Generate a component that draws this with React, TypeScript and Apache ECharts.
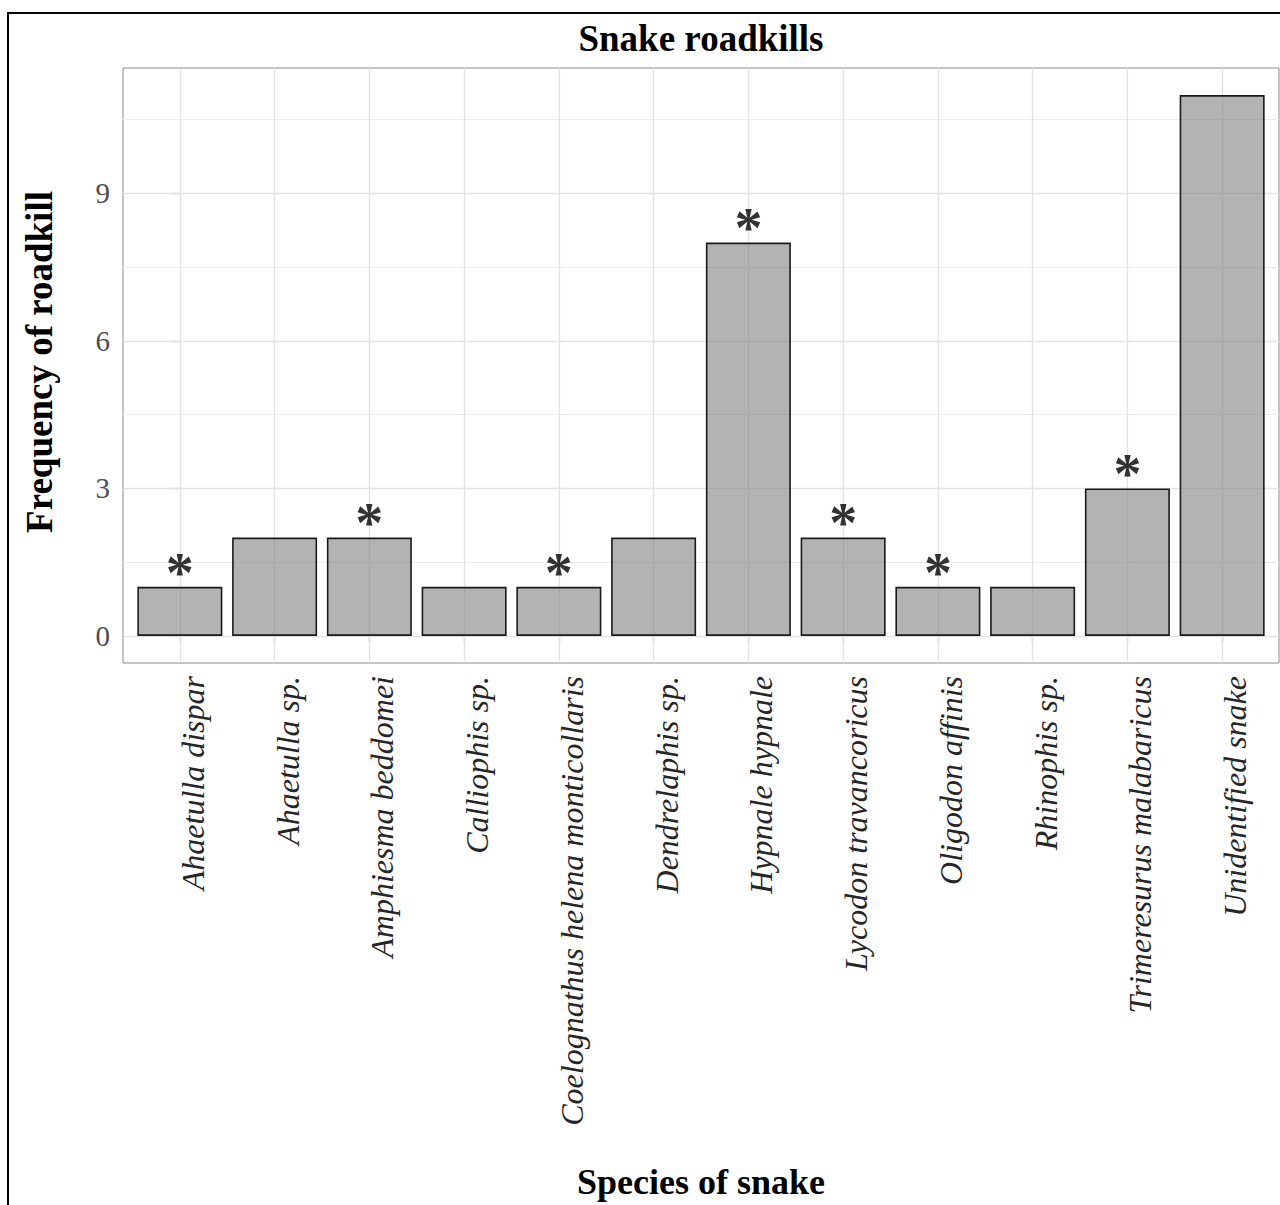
import React, { useEffect, useRef } from "react";
import * as echarts from "echarts";

const categories = [
  "Ahaetulla dispar",
  "Ahaetulla sp.",
  "Amphiesma beddomei",
  "Calliophis sp.",
  "Coelognathus helena monticollaris",
  "Dendrelaphis sp.",
  "Hypnale hypnale",
  "Lycodon travancoricus",
  "Oligodon affinis",
  "Rhinophis sp.",
  "Trimeresurus malabaricus",
  "Unidentified snake",
];
const counts = [1, 2, 2, 1, 1, 2, 8, 2, 1, 1, 3, 11];
const significant = [true, false, true, false, true, false, true, true, true, false, true, false];
const yTicks = [0, 3, 6, 9];
const yMinorGrid = [1.5, 4.5, 7.5, 10.5];

const SERIF = "'Liberation Serif', 'Times New Roman', serif";
const STAR_GAP = 0.45;

export default function App() {
  const ref = useRef<HTMLDivElement>(null);
  useEffect(() => {
    if (!ref.current) return;
    const chart = echarts.init(ref.current, null, { renderer: "svg" });
    const xIdx = categories.map((_, i) => i);
    const gridLine = { color: "#e3e3e3", width: 1.4, type: "solid" as const };
    const minorLine = { color: "#ececec", width: 1, type: "solid" as const };
    const option: any = {
      animation: false,
      backgroundColor: "#ffffff",
      grid: {
        left: 123,
        top: 68,
        right: 1,
        bottom: 542,
        show: true,
        borderColor: "#8a8a8a",
        borderWidth: 1,
        backgroundColor: "#ffffff",
        containLabel: false,
      },
      xAxis: {
        type: "value",
        min: -0.6,
        max: categories.length - 0.4,
        splitLine: { show: false },
        axisLine: { show: true, lineStyle: { color: "#8a8a8a", width: 1 } },
        axisTick: { show: true, customValues: xIdx, length: 6, lineStyle: { color: "#555", width: 1.2 } },
        axisLabel: {
          show: true,
          customValues: xIdx,
          rotate: 90,
          margin: 13,
          verticalAlign: "top",
          lineHeight: 26,
          formatter: (v: number) => categories[Math.round(v)] ?? "",
          fontFamily: SERIF,
          fontStyle: "italic",
          fontSize: 32,
          color: "#262626",
        },
      },
      yAxis: {
        type: "value",
        min: -0.55,
        max: 11.55,
        splitLine: { show: false },
        axisLine: { show: true, lineStyle: { color: "#8a8a8a", width: 1 } },
        axisTick: { show: true, customValues: yTicks, length: 6, lineStyle: { color: "#555", width: 1.2 } },
        axisLabel: {
          show: true,
          customValues: yTicks,
          margin: 13,
          fontFamily: SERIF,
          fontSize: 29,
          color: "#4d4d4d",
        },
      },
      series: [
        {
          type: "line",
          z: 1,
          silent: true,
          symbol: "none",
          lineStyle: { opacity: 0 },
          data: counts.map((v, i) => [i, v]),
          markLine: {
            silent: true,
            z: 1,
            symbol: "none",
            animation: false,
            label: { show: false },
            data: [
              ...yTicks.map((v) => ({ yAxis: v, lineStyle: gridLine })),
              ...yMinorGrid.map((v) => ({ yAxis: v, lineStyle: minorLine })),
              ...xIdx.map((v) => ({ xAxis: v, lineStyle: gridLine })),
            ],
          },
        },
        {
          type: "bar",
          z: 2,
          barWidth: 85,
          data: counts.map((v, i) => [i, v]),
          itemStyle: {
            color: "rgba(128,128,128,0.6)",
            borderColor: "#1a1a1a",
            borderWidth: 1.6,
          },
        },
        {
          type: "scatter",
          z: 3,
          symbolSize: 0,
          data: counts
            .map((v, i) => (significant[i] ? [i, v + STAR_GAP] : null))
            .filter((d) => d !== null),
          label: {
            show: true,
            position: "inside",
            formatter: "*",
            fontFamily: SERIF,
            fontWeight: "bold",
            fontSize: 56,
            color: "#000",
            offset: [0, 8],
          },
        },
      ],
      graphic: [
        {
          type: "rect",
          shape: { x: 8, y: 13, width: 1400, height: 1400 },
          style: { fill: "none", stroke: "#000", lineWidth: 2 },
          silent: true,
          z: 100,
        },
        {
          type: "text",
          x: 701,
          y: 38,
          style: {
            text: "Snake roadkills",
            font: `bold 37px ${SERIF}`,
            fill: "#000",
            align: "center",
            verticalAlign: "middle",
          },
        },
        {
          type: "text",
          x: 701,
          y: 1182,
          style: {
            text: "Species of snake",
            font: `bold 36px ${SERIF}`,
            fill: "#000",
            align: "center",
            verticalAlign: "middle",
          },
        },
        {
          type: "text",
          x: 39,
          y: 362,
          rotation: Math.PI / 2,
          style: {
            text: "Frequency of roadkill",
            font: `bold 37px ${SERIF}`,
            fill: "#000",
            align: "center",
            verticalAlign: "middle",
          },
        },
      ],
    };
    chart.setOption(option);
    return () => chart.dispose();
  }, []);
  return (
    <div
      ref={ref}
      style={{ position: "absolute", left: 0, top: 0, width: 1280, height: 1205 }}
    />
  );
}
